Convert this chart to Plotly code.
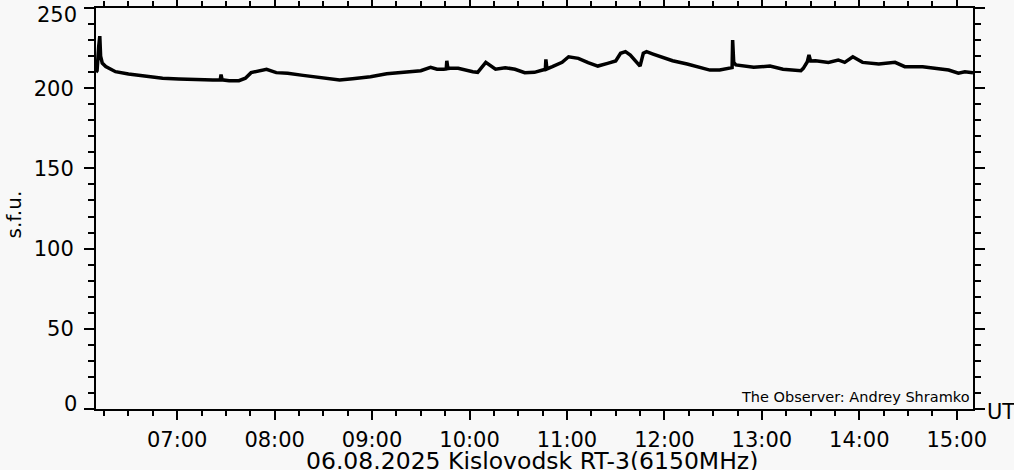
import plotly.graph_objects as go

DAY = "2025-08-06 "

# Time (UT, HH:MM:SS) and flux (s.f.u.)
times = [
    "06:10:00", "06:10:40", "06:11:40", "06:12:20", "06:12:50", "06:13:20", "06:13:50",
    "06:16:00", "06:22:00", "06:30:00", "06:41:00", "06:51:00", "07:01:00",
    "07:12:00", "07:22:00", "07:26:30", "07:27:00", "07:27:40", "07:32:00",
    "07:38:00", "07:42:00", "07:45:30", "07:50:00", "07:55:00", "08:01:00",
    "08:08:00", "08:17:30", "08:28:00", "08:40:00", "08:48:00", "08:59:00",
    "09:09:00", "09:19:00", "09:30:00", "09:36:00", "09:40:00", "09:44:00",
    "09:45:40", "09:46:00", "09:46:40", "09:48:00", "09:53:00", "10:02:00",
    "10:05:00", "10:10:00", "10:16:00", "10:22:00", "10:28:00", "10:34:00",
    "10:40:00", "10:45:00", "10:46:40", "10:47:00", "10:47:40", "10:51:00",
    "10:57:00", "11:01:00", "11:07:00", "11:13:00", "11:19:00", "11:25:00",
    "11:30:00", "11:33:00", "11:36:00", "11:39:00", "11:43:00", "11:45:00",
    "11:47:00", "11:49:00", "11:53:00", "11:59:00", "12:05:00", "12:14:00",
    "12:22:00", "12:28:00", "12:34:00", "12:40:00", "12:41:40", "12:42:00",
    "12:42:40", "12:44:00", "12:47:00", "12:55:00", "13:05:00", "13:13:00",
    "13:24:00", "13:25:30", "13:28:00", "13:29:00", "13:30:00", "13:33:00",
    "13:41:00", "13:47:00", "13:51:00", "13:56:00", "14:02:00", "14:12:00",
    "14:22:00", "14:28:00", "14:39:00", "14:47:00", "14:55:00", "15:01:00",
    "15:05:00", "15:10:00",
]
flux = [
    210.0, 211.0, 226.0, 232.5, 220.0, 218.0, 215.7,
    213.5, 210.3, 208.9, 207.2, 206.2, 205.7,
    205.1, 205.1, 205.3, 208.5, 205.2, 204.7,
    204.7, 206.2, 209.7, 210.9, 211.8, 209.7,
    209.3, 208.0, 206.6, 205.1, 205.9, 207.2,
    209.0, 209.9, 210.9, 213.0, 211.8, 211.8,
    212.0, 217.1, 212.3, 212.5, 212.4, 210.3,
    209.9, 216.1, 211.8, 212.8, 211.8, 209.7,
    209.9, 211.3, 211.6, 218.0, 212.0, 213.4,
    216.1, 219.6, 218.6, 215.9, 213.8, 215.5,
    217.0, 221.8, 222.8, 220.7, 216.5, 213.8,
    221.8, 222.8, 221.3, 219.3, 217.1, 215.1,
    213.0, 211.3, 211.3, 212.4, 212.8, 230.0,
    216.0, 214.5, 214.0, 213.0, 213.8, 211.8,
    210.9, 212.4, 216.5, 220.7, 217.0, 217.1,
    216.1, 217.6, 216.1, 219.6, 216.1, 215.1,
    216.1, 213.4, 213.4, 212.4, 211.3, 209.3,
    210.3, 209.7,
]

x_start = DAY + "06:10:00"
x_end = DAY + "15:10:00"
y_tick_values = [0, 50, 100, 150, 200, 250]
y_tick_labels = ["0", "50", "100", "150", "200", "250"]
title_text = "06.08.2025 Kislovodsk RT-3(6150MHz)"
observer_text = "The Observer: Andrey Shramko"

BG = "#f8f8f8"
FONT = "DejaVu Sans"
TICKFONT = dict(family=FONT, size=21, color="black")

fig = go.Figure()
fig.add_trace(go.Scatter(
    x=[DAY + t for t in times], y=flux, mode="lines",
    line=dict(color="black", width=3.5), hoverinfo="skip", showlegend=False,
))

axis_common = dict(
    showgrid=False, zeroline=False, showline=True, linecolor="black",
    linewidth=2, mirror="ticks", ticks="outside", tickcolor="black",
    tickwidth=2, tickfont=TICKFONT, automargin=False,
)

fig.update_xaxes(
    type="date", range=[x_start, x_end], dtick=3600000,
    tick0=DAY + "07:00:00", tickformat="%H:%M", ticklen=9,
    minor=dict(dtick=900000, tick0=DAY + "06:15:00", ticklen=5,
               tickwidth=2, tickcolor="black", ticks="outside", showgrid=False),
    ticklabelstandoff=2,
    **axis_common,
)
# the end labels (0 and 250) are pulled inside the frame in the reference,
# so they are drawn as annotations below
inner_text = ["" if i in (0, len(y_tick_labels) - 1) else s
              for i, s in enumerate(y_tick_labels)]
fig.update_yaxes(
    range=[y_tick_values[0], y_tick_values[-1]],
    tickmode="array", tickvals=y_tick_values, ticktext=inner_text,
    ticklen=10,
    minor=dict(dtick=10, ticklen=6, tickwidth=2, tickcolor="black",
               ticks="outside", showgrid=False),
    ticklabelstandoff=6,
    **axis_common,
)

for val, lab, shift in [(y_tick_values[0], y_tick_labels[0], 5),
                        (y_tick_values[-1], y_tick_labels[-1], -7)]:
    fig.add_annotation(
        text=lab, xref="paper", yref="y", x=0.0, y=val, xshift=-17,
        yshift=shift, xanchor="right", yanchor="middle", showarrow=False,
        font=TICKFONT,
    )

# x-axis title (bottom caption)
fig.add_annotation(
    text=title_text, xref="paper", yref="paper", x=0.5, y=0.0,
    xshift=-3, yshift=-52, xanchor="center", yanchor="middle", showarrow=False,
    font=dict(family=FONT, size=23.5, color="black"),
)
# y-axis title
fig.add_annotation(
    text="s.f.u.", xref="paper", yref="paper", x=0.0, y=0.5,
    xshift=-83, yshift=-6, xanchor="center", yanchor="middle", showarrow=False,
    textangle=-90, font=dict(family=FONT, size=20, color="black"),
)
fig.add_annotation(
    text="UT", xref="paper", yref="paper", x=1.0, y=0.0, xshift=12,
    yshift=-3, xanchor="left", yanchor="middle", showarrow=False,
    font=dict(family=FONT, size=21, color="black"),
)
fig.add_annotation(
    text=observer_text, xref="paper", yref="paper", x=1.0, y=0.0,
    xshift=-1, yshift=2, xanchor="right", yanchor="bottom", showarrow=False,
    font=dict(family=FONT, size=14.5, color="black"),
)

fig.update_layout(
    width=1014, height=470,
    margin=dict(l=96, r=41, t=8, b=61),
    paper_bgcolor=BG, plot_bgcolor=BG,
    showlegend=False,
)

fig.write_html(
    "out.html",
    config={"displayModeBar": False},
    post_script="document.body.style.margin='0';document.body.style.background='#f8f8f8';",
)
